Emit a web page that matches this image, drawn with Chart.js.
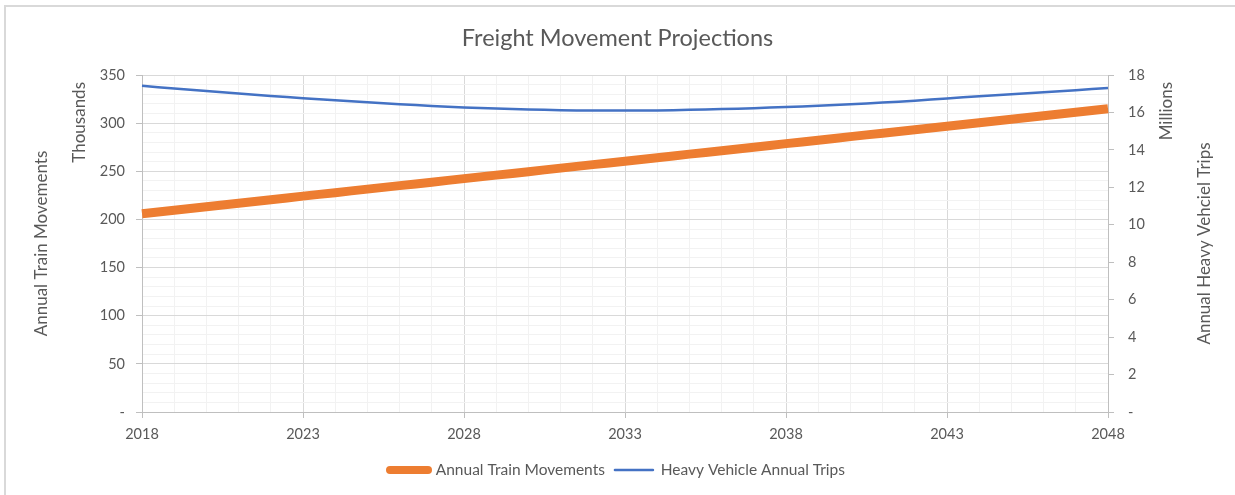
<!DOCTYPE html>
<html>
<head>
<meta charset="utf-8">
<title>Freight Movement Projections</title>
<script src="https://cdn.jsdelivr.net/npm/chart.js@4.4.1/dist/chart.umd.min.js"></script>
<style>
  html, body { margin: 0; padding: 0; background: #fff; }
  #wrap { position: relative; width: 1235px; height: 495px; }
</style>
</head>
<body>
<div id="wrap"><canvas id="myChart" width="1235" height="495"></canvas></div>
<script>
// years on the x axis
const years = [2018, 2019, 2020, 2021, 2022, 2023, 2024, 2025, 2026, 2027,
    2028, 2029, 2030, 2031, 2032, 2033, 2034, 2035, 2036, 2037,
    2038, 2039, 2040, 2041, 2042, 2043, 2044, 2045, 2046, 2047, 2048];

// annual train movements, thousands (left axis)
const trainMovements = [206, 209.6, 213.2, 216.8, 220.5, 224.2, 227.8, 231.5, 235.1, 238.7,
    242.4, 246, 249.6, 253.3, 256.9, 260.5, 264.1, 267.8, 271.4, 275,
    278.7, 282.3, 286, 289.6, 293.2, 296.8, 300.5, 304.1, 307.7, 311.3, 315];

// heavy vehicle annual trips, millions (right axis)
const vehicleTrips = [17.42, 17.28, 17.14, 17.01, 16.88, 16.76, 16.65, 16.54, 16.44, 16.35,
    16.27, 16.21, 16.16, 16.12, 16.10, 16.10, 16.11, 16.14, 16.18, 16.23,
    16.29, 16.36, 16.44, 16.53, 16.63, 16.75, 16.86, 16.97, 17.08, 17.19, 17.31];

const textColor = '#595959';
const fontFamily = 'Lato, "Open Sans", sans-serif';
const majorGrid = '#d9d9d9';
const minorGrid = '#f2f2f2';
const axisLine = '#bfbfbf';

// frame + axis titles, drawn as text next to the plot
const extras = {
    id: 'extras',
    beforeDraw(chart) {
        const c = chart.ctx;
        c.save();
        c.fillStyle = '#fff';
        c.fillRect(0, 0, chart.width, chart.height);
        c.strokeStyle = '#d9d9d9';
        c.lineWidth = 2;
        c.beginPath();
        c.moveTo(chart.width, 6);
        c.lineTo(5, 6);
        c.lineTo(5, chart.height);
        c.stroke();
        c.restore();
    },
    afterDraw(chart) {
        const c = chart.ctx;
        const area = chart.chartArea;
        const mid = (area.top + area.bottom) / 2;
        function vText(txt, x, y, align) {
            c.save();
            c.translate(x, y);
            c.rotate(-Math.PI / 2);
            c.textAlign = align;
            c.textBaseline = 'middle';
            c.fillText(txt, 0, 0);
            c.restore();
        }
        c.save();
        c.fillStyle = textColor;
        c.font = '17px ' + fontFamily;
        vText('Annual Train Movements', 42, mid, 'center');
        vText('Annual Heavy Vehciel Trips', 1205, mid, 'center');
        vText('Thousands', 80, area.top + 7, 'right');
        vText('Millions', 1167, area.top + 7, 'right');
        c.restore();
    }
};

const ctx = document.getElementById('myChart');

new Chart(ctx, {
    type: 'line',
    data: {
        labels: years,
        datasets: [{
            label: 'Annual Train Movements',
            data: trainMovements,
            yAxisID: 'y',
            borderColor: '#ed7d31',
            backgroundColor: '#ed7d31',
            borderWidth: 9,
            pointRadius: 0,
            tension: 0.3,
        }, {
            label: 'Heavy Vehicle Annual Trips',
            data: vehicleTrips,
            yAxisID: 'y1',
            borderColor: '#4472c4',
            backgroundColor: '#4472c4',
            borderWidth: 2.5,
            pointRadius: 0,
            tension: 0.4,
        }]
    },
    options: {
        responsive: false,
        animation: false,
        layout: { padding: { left: 0, right: 0, top: 0, bottom: 7.25 } },
        plugins: {
            title: {
                display: true,
                text: 'Freight Movement Projections',
                color: textColor,
                font: { family: fontFamily, size: 23.5, weight: 'normal', lineHeight: 1.2 },
                padding: { top: 24, bottom: 22.8 },
            },
            legend: {
                position: 'bottom',
                labels: {
                    color: textColor,
                    font: { family: fontFamily, size: 15.5 },
                    usePointStyle: true,
                    pointStyle: 'line',
                    pointStyleWidth: 38,
                    padding: 10,
                    generateLabels(chart) {
                        const items = Chart.defaults.plugins.legend.labels.generateLabels(chart);
                        items.forEach(item => {
                            item.lineCap = 'round';
                            item.lineWidth = item.datasetIndex === 0 ? 8 : 2.5;
                        });
                        return items;
                    }
                }
            },
            tooltip: { enabled: false }
        },
        scales: {
            x: {
                offset: false,
                afterFit(scale) { scale.height = 40.25; },
                border: { color: axisLine },
                grid: {
                    color: c => c.index % 5 === 0 ? majorGrid : minorGrid,
                    tickColor: c => c.index % 5 === 0 ? axisLine : 'rgba(0,0,0,0)',
                    tickLength: 6,
                },
                ticks: {
                    autoSkip: false,
                    maxRotation: 0,
                    padding: 8,
                    color: textColor,
                    font: { family: fontFamily, size: 14.5 },
                    callback: (v, i) => i % 5 === 0 ? years[i] : '',
                }
            },
            y: {
                position: 'left',
                min: 0,
                max: 350,
                afterFit(scale) { scale.width = 142; },
                border: { color: axisLine },
                grid: {
                    color: c => c.tick.value % 50 === 0 ? majorGrid : minorGrid,
                    tickColor: c => c.tick.value % 50 === 0 ? axisLine : 'rgba(0,0,0,0)',
                    tickLength: 6,
                },
                ticks: {
                    stepSize: 10,
                    autoSkip: false,
                    padding: 11,
                    color: textColor,
                    font: { family: fontFamily, size: 14.5 },
                    callback: v => v % 50 === 0 ? (v === 0 ? '-' : v) : '',
                }
            },
            y1: {
                position: 'right',
                min: 0,
                max: 18,
                afterFit(scale) { scale.width = 127; },
                border: { color: axisLine },
                grid: {
                    drawOnChartArea: false,
                    tickColor: axisLine,
                    tickLength: 6,
                },
                ticks: {
                    stepSize: 2,
                    padding: 14,
                    color: textColor,
                    font: { family: fontFamily, size: 14.5 },
                    callback: v => v === 0 ? '-' : v,
                }
            }
        }
    },
    plugins: [extras]
});
</script>
</body>
</html>
